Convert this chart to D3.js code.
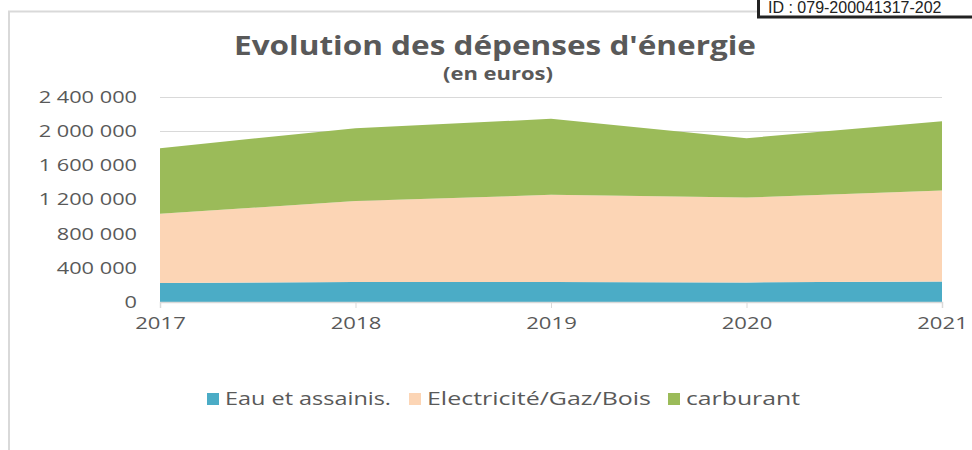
<!DOCTYPE html>
<html>
<head>
<meta charset="utf-8">
<script src="https://cdn.jsdelivr.net/npm/d3@7"></script>
<style>
  body { margin: 0; background: #fff; }
  svg { display: block; }
</style>
</head>
<body>
<div id="chart"></div>
<script>
  // Data (euros)
  var years = ["2017", "2018", "2019", "2020", "2021"];
  var eau = [222000, 234000, 234000, 229000, 241000];
  var electricite = [811000, 947000, 1021000, 994000, 1064000];
  var carburant = [768000, 854000, 889000, 695000, 812000];
  var yTicks = [0, 400000, 800000, 1200000, 1600000, 2000000, 2400000];

  var seriesNames = ["Eau et assainis.", "Electricité/Gaz/Bois", "carburant"];
  var seriesColors = ["#4bacc6", "#fcd5b5", "#9bbb59"];
  var textColor = "#595959";
  var font = "'Open Sans', sans-serif";

  var width = 972, height = 450;
  var margin = { top: 97, left: 160 };

  var svg = d3.select("#chart").append("svg")
    .attr("width", width)
    .attr("height", height);

  // chart frame (only the left and top edges show)
  svg.append("path")
    .attr("d", "M9,450 V11.5 H760")
    .attr("fill", "none")
    .attr("stroke", "#d9d9d9")
    .attr("stroke-width", 2);

  // table for the stack
  var table = years.map(function (y, i) {
    return { year: y, eau: eau[i], elec: electricite[i], carb: carburant[i] };
  });
  var layers = d3.stack().keys(["eau", "elec", "carb"])(table);

  var x = d3.scalePoint()
    .domain(years)
    .range([0, 782]);

  var y = d3.scaleLinear()
    .domain([0, 2400000])
    .range([205, 0]);

  var g = svg.append("g")
    .attr("transform", "translate(" + margin.left + "," + margin.top + ")");

  // grid lines
  g.append("g")
    .selectAll("line")
    .data(yTicks.slice(1))
    .join("line")
    .attr("x1", 0)
    .attr("x2", x.range()[1])
    .attr("y1", function (d) { return Math.round(y(d)) + 0.5; })
    .attr("y2", function (d) { return Math.round(y(d)) + 0.5; })
    .attr("stroke", "#d9d9d9")
    .attr("stroke-width", 1);

  // stacked areas
  var area = d3.area()
    .x(function (d) { return x(d.data.year); })
    .y0(function (d) { return y(d[0]); })
    .y1(function (d) { return y(d[1]); });

  g.selectAll(".layer")
    .data(layers)
    .join("path")
    .attr("class", "layer")
    .attr("fill", function (d, i) { return seriesColors[i]; })
    .attr("d", area);

  // X axis
  var xAxis = g.append("g")
    .attr("transform", "translate(0," + y(0) + ")")
    .call(d3.axisBottom(x).tickSize(6).tickPadding(9));
  xAxis.select(".domain").attr("stroke", "#d9d9d9").attr("stroke-width", 1.5);
  xAxis.selectAll("line").attr("stroke", "#d9d9d9");
  xAxis.selectAll("text")
    .attr("fill", textColor)
    .attr("transform", "scale(1.3,1)")  // the reference text is stretched sideways
    .style("font-family", font)
    .style("font-size", "17px");

  // Y axis (labels only)
  var yAxis = g.append("g")
    .call(d3.axisLeft(y)
      .tickValues(yTicks)
      .tickSize(0)
      .tickPadding(22)
      .tickFormat(function (d) { return d3.format(",")(d).replace(/,/g, " "); }));
  yAxis.select(".domain").remove();
  yAxis.selectAll("text")
    .attr("fill", textColor)
    .attr("x", -23 / 1.28)
    .attr("transform", "scale(1.28,1)")
    .style("font-family", font)
    .style("font-size", "17px");

  // Title
  svg.append("text")
    .attr("x", 495)
    .attr("y", 55)
    .attr("text-anchor", "middle")
    .attr("fill", textColor)
    .attr("textLength", 522)
    .attr("lengthAdjust", "spacingAndGlyphs")
    .style("font-family", font)
    .style("font-weight", "bold")
    .style("font-size", "27px")
    .text("Evolution des dépenses d'énergie");

  svg.append("text")
    .attr("x", 498)
    .attr("y", 80)
    .attr("text-anchor", "middle")
    .attr("fill", textColor)
    .attr("textLength", 110)
    .attr("lengthAdjust", "spacingAndGlyphs")
    .style("font-family", font)
    .style("font-weight", "bold")
    .style("font-size", "17px")
    .text("(en euros)");

  // Legend
  var legendX = [207, 409, 668];
  var legendW = [166, 224, 114];
  var legend = svg.append("g");
  seriesNames.forEach(function (name, i) {
    legend.append("rect")
      .attr("x", legendX[i])
      .attr("y", 393)
      .attr("width", 12)
      .attr("height", 12)
      .attr("fill", seriesColors[i]);
    legend.append("text")
      .attr("x", legendX[i] + 18)
      .attr("y", 405)
      .attr("fill", textColor)
      .attr("textLength", legendW[i])
      .attr("lengthAdjust", "spacingAndGlyphs")
      .style("font-family", font)
      .style("font-size", "18px")
      .text(name);
  });

  // ID stamp in the top right corner
  svg.append("rect")
    .attr("x", 758.5)
    .attr("y", -5)
    .attr("width", 230)
    .attr("height", 22)
    .attr("fill", "#fff")
    .attr("stroke", "#222")
    .attr("stroke-width", 3);
  svg.append("text")
    .attr("x", 768)
    .attr("y", 13)
    .attr("fill", "#222")
    .style("font-family", "'Liberation Sans', Arial, sans-serif")
    .style("font-size", "16px")
    .text("ID : 079-200041317-202");
</script>
</body>
</html>
